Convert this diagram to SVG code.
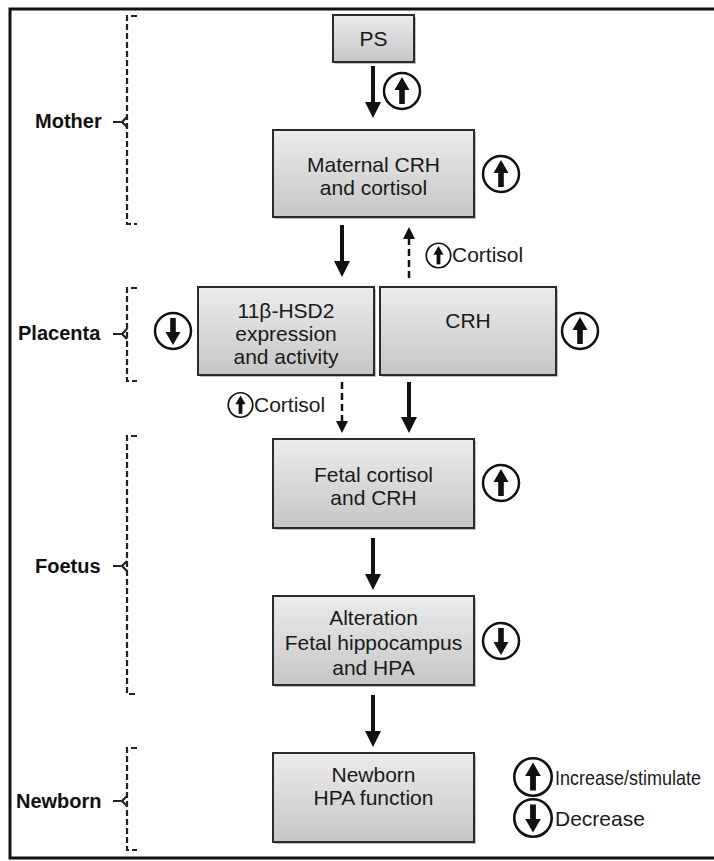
<svg xmlns="http://www.w3.org/2000/svg" xmlns:xlink="http://www.w3.org/1999/xlink" width="714" height="861" viewBox="0 0 714 861">
  <style>
    .box { fill: url(#boxFill); stroke: #2b2b2b; stroke-width: 2; }
    .shadow { fill: #8a8a8a; opacity: 0.55; }
    .txt { font-family: "Liberation Sans", Arial, sans-serif; font-size: 21px; fill: #1a1a1a; text-anchor: middle; }
    .lbl { font-family: "Liberation Sans", Arial, sans-serif; font-size: 20px; font-weight: bold; fill: #111; }
    .note { font-family: "Liberation Sans", Arial, sans-serif; font-size: 21px; fill: #1a1a1a; }
    .solid { stroke: #111; stroke-width: 4; fill: none; marker-end: url(#headSolid); }
    .dashed { stroke: #111; stroke-width: 2.5; fill: none; stroke-dasharray: 7 4; marker-end: url(#headDash); }
    .bracket { stroke: #222; stroke-width: 2.2; fill: none; stroke-dasharray: 6 3; }
    .tick { stroke: #222; stroke-width: 2.2; fill: none; }
  </style>
  <defs>
    <linearGradient id="boxFill" x1="0" y1="0" x2="0" y2="1">
      <stop offset="0" stop-color="#ececec"/>
      <stop offset="1" stop-color="#c6c6c6"/>
    </linearGradient>
    <marker id="headSolid" viewBox="0 0 16 16" refX="6" refY="8" markerWidth="16" markerHeight="16" orient="auto" markerUnits="userSpaceOnUse">
      <path d="M0,0 L16,8 L0,16 z" fill="#111"/>
    </marker>
    <marker id="headDash" viewBox="0 0 12 12" refX="4" refY="6" markerWidth="12" markerHeight="12" orient="auto" markerUnits="userSpaceOnUse">
      <path d="M0,0 L12,6 L0,12 z" fill="#111"/>
    </marker>
    <!-- circled up arrow, radius 18, centred on origin -->
    <g id="upIcon">
      <circle r="18" fill="#fff" stroke="#111" stroke-width="2.5"/>
      <rect x="-2.8" y="-3" width="5.6" height="16" fill="#111"/>
      <path d="M-7.5,-1 L0,-14 L7.5,-1 z" fill="#111"/>
    </g>
    <g id="downIcon">
      <use xlink:href="#upIcon" transform="rotate(180)"/>
    </g>
  </defs>

  <rect width="714" height="861" fill="#fff"/>
  <!-- frame -->
  <path d="M716,9 L10,9 L10,858 L716,858" fill="none" stroke="#111" stroke-width="3"/>

  <!-- life-stage brackets -->
  <g id="stage-mother">
    <path class="bracket" d="M137,16 L127,16 L127,224 L137,224"/>
    <path class="tick" d="M113,122 L121,122 M127,117 L122,122 L127,127"/>
    <text class="lbl" x="35" y="128">Mother</text>
  </g>
  <g id="stage-placenta">
    <path class="bracket" d="M137,288 L127,288 L127,381 L137,381"/>
    <path class="tick" d="M113,334 L121,334 M127,329 L122,334 L127,339"/>
    <text class="lbl" x="18" y="340">Placenta</text>
  </g>
  <g id="stage-foetus">
    <path class="bracket" d="M137,436 L127,436 L127,694 L137,694"/>
    <path class="tick" d="M113,566 L121,566 M127,561 L122,566 L127,571"/>
    <text class="lbl" x="35" y="573">Foetus</text>
  </g>
  <g id="stage-newborn">
    <path class="bracket" d="M137,748 L127,748 L127,850 L137,850"/>
    <path class="tick" d="M113,801 L121,801 M127,796 L122,801 L127,806"/>
    <text class="lbl" x="16" y="808">Newborn</text>
  </g>

  <!-- nodes -->
  <g id="ps">
    <rect class="shadow" x="335" y="17" width="81" height="47"/>
    <rect class="box" x="333" y="15" width="81" height="47"/>
    <text class="txt" x="373.5" y="46">PS</text>
  </g>
  <g id="maternal">
    <rect class="shadow" x="275" y="132" width="201" height="87"/>
    <rect class="box" x="273" y="130" width="201" height="87"/>
    <text class="txt" x="373.5" y="172">Maternal CRH</text>
    <text class="txt" x="373.5" y="195">and cortisol</text>
  </g>
  <g id="hsd2">
    <rect class="shadow" x="200" y="289" width="176" height="88"/>
    <rect class="box" x="198" y="287" width="176" height="88"/>
    <text class="txt" x="286" y="318">11β-HSD2</text>
    <text class="txt" x="286" y="341">expression</text>
    <text class="txt" x="286" y="364">and activity</text>
  </g>
  <g id="crh">
    <rect class="shadow" x="382" y="289" width="176" height="88"/>
    <rect class="box" x="380" y="287" width="176" height="88"/>
    <text class="txt" x="468" y="328">CRH</text>
  </g>
  <g id="fetal">
    <rect class="shadow" x="275" y="441" width="201" height="89"/>
    <rect class="box" x="273" y="439" width="201" height="89"/>
    <text class="txt" x="373.5" y="482">Fetal cortisol</text>
    <text class="txt" x="373.5" y="505">and CRH</text>
  </g>
  <g id="alteration">
    <rect class="shadow" x="275" y="598" width="201" height="89"/>
    <rect class="box" x="273" y="596" width="201" height="89"/>
    <text class="txt" x="373.5" y="625">Alteration</text>
    <text class="txt" x="373.5" y="650">Fetal hippocampus</text>
    <text class="txt" x="373.5" y="675">and HPA</text>
  </g>
  <g id="newborn">
    <rect class="shadow" x="275" y="755" width="201" height="89"/>
    <rect class="box" x="273" y="753" width="201" height="89"/>
    <text class="txt" x="373.5" y="782">Newborn</text>
    <text class="txt" x="373.5" y="805">HPA function</text>
  </g>

  <!-- connectors -->
  <g id="connectors">
    <line class="solid" x1="373" y1="66" x2="373" y2="108"/>
    <line class="solid" x1="342" y1="225" x2="342" y2="267"/>
    <line class="dashed" x1="409" y1="278" x2="409" y2="235"/>
    <line class="dashed" x1="342" y1="382" x2="342" y2="425"/>
    <line class="solid" x1="409" y1="382" x2="409" y2="423"/>
    <line class="solid" x1="373" y1="538" x2="373" y2="580"/>
    <line class="solid" x1="373" y1="695" x2="373" y2="737"/>
  </g>

  <!-- change indicators -->
  <g id="ind-ps"><use xlink:href="#upIcon" x="402" y="91"/></g>
  <g id="ind-maternal"><use xlink:href="#upIcon" x="501" y="174"/></g>
  <g id="ind-hsd2"><use xlink:href="#downIcon" transform="translate(173,331)"/></g>
  <g id="ind-crh"><use xlink:href="#upIcon" x="580" y="331"/></g>
  <g id="ind-fetal"><use xlink:href="#upIcon" x="501" y="483"/></g>
  <g id="ind-alteration"><use xlink:href="#downIcon" transform="translate(501,641)"/></g>

  <g id="cortisol-up">
    <use xlink:href="#upIcon" transform="translate(438.5,255.5) scale(0.68)"/>
    <text class="note" x="452" y="262">Cortisol</text>
  </g>
  <g id="cortisol-down">
    <use xlink:href="#upIcon" transform="translate(240.5,405) scale(0.68)"/>
    <text class="note" x="254" y="412">Cortisol</text>
  </g>

  <!-- key -->
  <g id="legend">
    <use xlink:href="#upIcon" transform="translate(533,777) scale(1.04)"/>
    <text class="note" x="555" y="785" font-size="19" textLength="146" lengthAdjust="spacingAndGlyphs">Increase/stimulate</text>
    <use xlink:href="#downIcon" transform="translate(533,818) scale(1.04)"/>
    <text class="note" x="555" y="826" font-size="19">Decrease</text>
  </g>
</svg>
